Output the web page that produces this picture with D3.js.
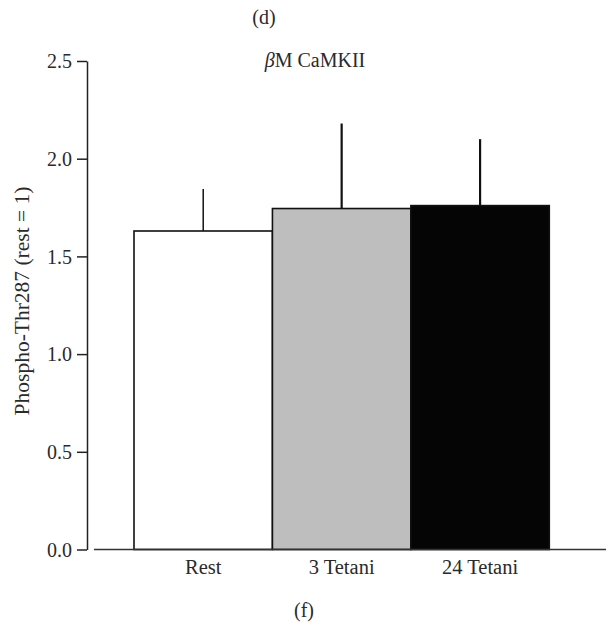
<!DOCTYPE html>
<html>
<head>
<meta charset="utf-8">
<script src="https://cdn.jsdelivr.net/npm/d3@7"></script>
<style>
    body { margin: 0; background: #fff; }
    text, tspan { font-family: "Liberation Serif", "DejaVu Serif", serif; fill: #2a2a2a; }
</style>
</head>
<body>
<div id="chart"></div>
<script>
// data
const categories = ["Rest", "3 Tetani", "24 Tetani"];
const means = [1.63, 1.745, 1.76];
const errors = [0.215, 0.435, 0.34];
const fills = ["#ffffff", "#bebebe", "#050505"];
const yTicks = [0.0, 0.5, 1.0, 1.5, 2.0, 2.5];

const dimension = { width: 609, height: 623 };
const plot = { left: 134, right: 549.3, top: 61, bottom: 549.5 };
const serif = "'Liberation Serif', 'DejaVu Serif', serif";

let svg = d3.select("#chart")
    .append("svg")
    .attr("width", dimension.width)
    .attr("height", dimension.height);

let x = d3.scaleBand().domain(categories).range([plot.left, plot.right]).padding(0);
let y = d3.scaleLinear().domain([0, 2.5]).range([plot.bottom, plot.top]);

let data = categories.map((c, i) => ({ cat: c, mean: means[i], err: errors[i], fill: fills[i] }));

// bars
svg.append("g").attr("class", "bars")
    .selectAll("rect")
    .data(data)
    .enter().append("rect")
    .attr("x", d => x(d.cat))
    .attr("y", d => y(d.mean))
    .attr("width", x.bandwidth())
    .attr("height", d => y(0) - y(d.mean))
    .attr("fill", d => d.fill)
    .attr("stroke", "#111")
    .attr("stroke-width", 1.6);

// error bars (upper only)
svg.append("g").attr("class", "errors")
    .selectAll("line")
    .data(data)
    .enter().append("line")
    .attr("x1", d => x(d.cat) + x.bandwidth() / 2)
    .attr("x2", d => x(d.cat) + x.bandwidth() / 2)
    .attr("y1", d => y(d.mean))
    .attr("y2", d => y(d.mean + d.err))
    .attr("stroke", "#111")
    .attr("stroke-width", (d, i) => i === 0 ? 1.5 : 2.2);

// y axis
let yAxis = svg.append("g")
    .attr("class", "axis--y")
    .attr("transform", "translate(87,0)")
    .call(d3.axisLeft(y).tickValues(yTicks).tickFormat(d3.format(".1f")).tickSize(10).tickSizeOuter(0));
yAxis.select(".domain").attr("stroke", "#222").attr("stroke-width", 1.5);
yAxis.selectAll(".tick line").attr("stroke", "#222").attr("stroke-width", 1.5);
yAxis.selectAll(".tick text")
    .attr("x", -15)
    .attr("dy", "0.34em")
    .style("font-family", serif)
    .style("font-size", "20px")
    .style("fill", "#2a2a2a");

// x axis: plain baseline, labels under each bar
svg.append("line")
    .attr("x1", 94).attr("x2", 606)
    .attr("y1", y(0)).attr("y2", y(0))
    .attr("stroke", "#333")
    .attr("stroke-width", 1.5);

svg.append("g").attr("class", "x-labels")
    .selectAll("text")
    .data(categories)
    .enter().append("text")
    .attr("x", d => x(d) + x.bandwidth() / 2)
    .attr("y", 574)
    .attr("text-anchor", "middle")
    .style("font-family", serif)
    .style("font-size", "20.5px")
    .text(d => d);

// y label
svg.append("text")
    .attr("transform", "translate(29,301) rotate(-90)")
    .attr("text-anchor", "middle")
    .style("font-family", serif)
    .style("font-size", "21.5px")
    .text("Phospho-Thr287 (rest = 1)");

// title
let title = svg.append("text")
    .attr("x", 315)
    .attr("y", 67)
    .attr("text-anchor", "middle")
    .style("font-family", serif)
    .style("font-size", "20px");
title.append("tspan").style("font-family", serif).style("font-style", "italic").text("β");
title.append("tspan").style("font-family", serif).text("M CaMKII");

// panel labels
svg.append("text")
    .attr("x", 264).attr("y", 24)
    .attr("text-anchor", "middle")
    .style("font-family", serif)
    .style("font-size", "20px")
    .text("(d)");

svg.append("text")
    .attr("x", 304).attr("y", 617)
    .attr("text-anchor", "middle")
    .style("font-family", serif)
    .style("font-size", "20px")
    .text("(f)");
</script>
</body>
</html>
